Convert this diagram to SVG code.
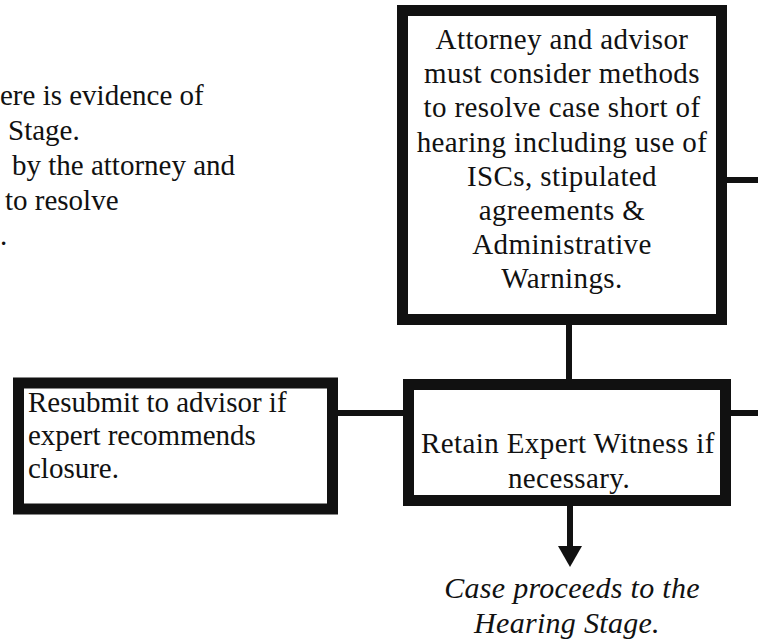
<svg xmlns="http://www.w3.org/2000/svg" width="758" height="641" viewBox="0 0 758 641">
<style>
.box{fill:#fff;stroke:#111;stroke-width:11}
text{font-family:'Liberation Serif','DejaVu Serif','Times New Roman',serif;font-size:29px;fill:#111}
.c{text-anchor:middle}
.w{letter-spacing:0.4px}
.it{font-style:italic;font-size:30px;letter-spacing:0.3px}
.ln{stroke:#111;stroke-width:6;fill:none}
</style>
<g id="note">
<text x="0" y="105">ere is evidence of</text>
<text x="8" y="140">Stage.</text>
<text x="12" y="175">by the attorney and</text>
<text x="5" y="210">to resolve</text>
<text x="0" y="245">.</text>
</g>
<g id="connectors">
<line class="ln" x1="727" y1="180" x2="758" y2="180"/>
<line class="ln" x1="569" y1="325" x2="569" y2="380"/>
<line class="ln" x1="731" y1="413" x2="758" y2="413"/>
<line class="ln" x1="338" y1="413" x2="403" y2="413"/>
<line class="ln" x1="570" y1="506" x2="570" y2="548"/>
<path d="M558,546 L582,546 L570,567 Z" fill="#111"/>
</g>
<g id="attorney">
<rect class="box" x="402.5" y="10.5" width="319" height="309"/>
<text class="c w" x="562" y="49">Attorney and advisor</text>
<text class="c w" x="562" y="83">must consider methods</text>
<text class="c w" x="562" y="117">to resolve case short of</text>
<text class="c w" x="562" y="152">hearing including use of</text>
<text class="c w" x="562" y="186">ISCs, stipulated</text>
<text class="c w" x="562" y="220">agreements &amp;</text>
<text class="c w" x="562" y="254">Administrative</text>
<text class="c w" x="562" y="288">Warnings.</text>
</g>
<g id="resubmit">
<rect class="box" x="18.5" y="383" width="314" height="126"/>
<text x="28" y="412">Resubmit to advisor if</text>
<text x="28" y="445">expert recommends</text>
<text x="28" y="478">closure.</text>
</g>
<g id="expert">
<rect class="box" x="408.5" y="384.5" width="317" height="116"/>
<text class="w" x="421" y="453">Retain Expert Witness if</text>
<text class="c w" x="569" y="488">necessary.</text>
</g>
<g id="hearing">
<text class="c it" x="572" y="598">Case proceeds to the</text>
<text class="c it" x="567" y="633">Hearing Stage.</text>
</g>
</svg>
